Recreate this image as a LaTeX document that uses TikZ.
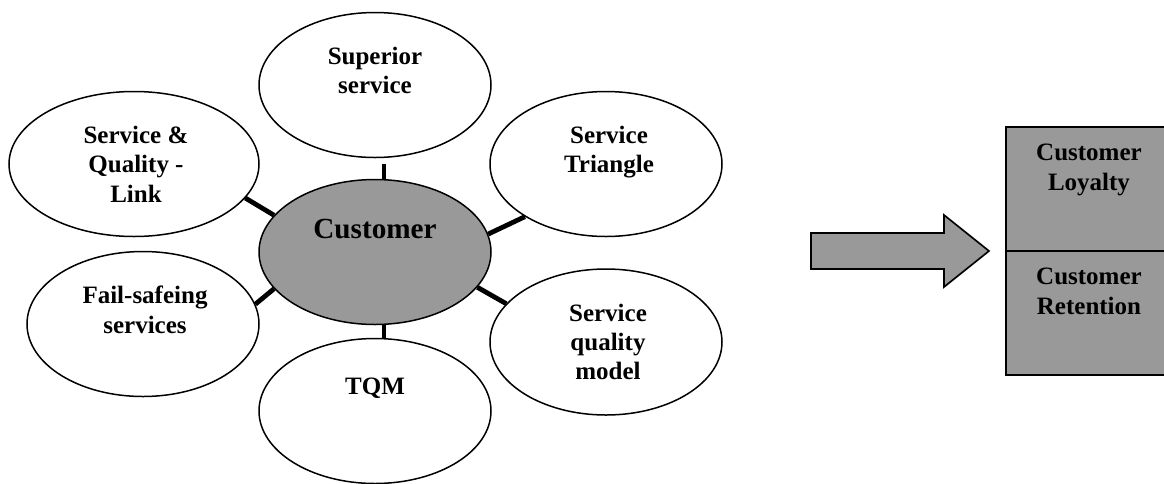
\documentclass[tikz,border=0pt]{standalone}
\usepackage{fontspec}
\setmainfont{Liberation Serif}
\usetikzlibrary{positioning, shapes.geometric}
\definecolor{boxgray}{HTML}{999999}

\begin{document}
\begin{tikzpicture}[
  x=0.5pt, y=-0.5pt,
  bubble/.style={ellipse, draw, line width=0.75pt, minimum width=116pt, minimum height=72.5pt, inner sep=0pt},
  hub/.style={bubble, fill=boxgray},
  cell/.style={rectangle, draw, line width=0.85pt, fill=boxgray, minimum width=83pt, minimum height=62pt, inner sep=0pt, outer sep=0pt},
  txt/.style={font=\fontsize{12.5}{14.7}\selectfont\bfseries, align=center, inner sep=0pt},
  spoke/.style={line width=2.4pt},
]
\useasboundingbox (0,0) rectangle (1164,483);
\clip (0,0) rectangle (1164,483);

% Customer in the middle, six topics round it
\node[hub] (cust) at (375,252) {};
\node[bubble] (sup) at (375,85) {};
\node[bubble, minimum width=125pt] (link) at (134,164) {};
\node[bubble] (fail) at (143,324) {};
\node[bubble] (tqm) at (375,411) {};
\node[bubble] (tri) at (606,164) {};
\node[bubble, minimum height=73pt] (model) at (606,342) {};

% Texts (hang from the top of each bubble)
\node[txt, font=\fontsize{14.6}{17}\selectfont\bfseries, below=20pt of cust.north] (cust-t) {Customer};
\node[txt, below=17.5pt of sup.north] (sup-t) {Superior\\service};
\node[txt, below=17.5pt of link.north, xshift=1pt] (link-t) {Service \&\\Quality -\\Link};
\node[txt, below=17.5pt of fail.north, xshift=1pt] (fail-t) {Fail-safeing\\services};
\node[txt, below=20pt of tqm.north] (tqm-t) {TQM};
\node[txt, below=17.5pt of tri.north, xshift=1.5pt] (tri-t) {Service\\Triangle};
\node[txt, below=17.5pt of model.north, xshift=1pt] (model-t) {Service\\quality\\model};

% Spokes
\draw[spoke, shorten >=3pt] (cust.83) -- (sup.-83);
\draw[spoke] (cust.-83) -- (tqm.83);
\draw[spoke] (link.-17) -- (cust.160);
\draw[spoke] (fail.10) -- (cust.200);
\draw[spoke] (cust.9) -- (tri.213);
\draw[spoke] (cust.-19) -- (model.159);

% Block arrow
\draw[line width=0.85pt, fill=boxgray] (811,233) -- (944,233) -- (944,215) -- (989,251)
  -- (944,287) -- (944,269) -- (811,269) -- cycle;

% Result box
\node[cell] (loyal) at (1089,189) {};
\node[cell, below=0pt of loyal] (retain) {};
\node[txt, below=8.5pt of loyal.north] (loyal-t) {Customer\\Loyalty};
\node[txt, below=8.5pt of retain.north] (retain-t) {Customer\\Retention};

\end{tikzpicture}
\end{document}
